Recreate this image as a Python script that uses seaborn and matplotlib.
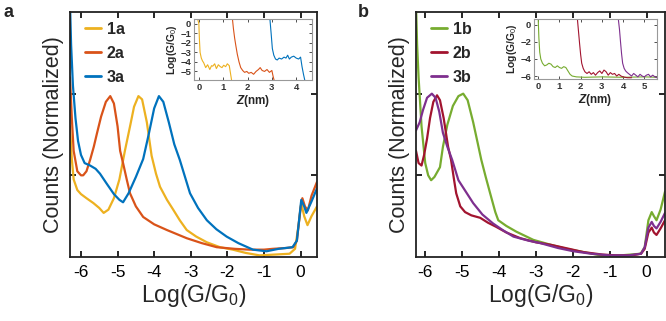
import numpy as np
import pandas as pd
import matplotlib
matplotlib.use("Agg")
import matplotlib.pyplot as plt
import seaborn as sns

# ---------------- data ----------------
# Panel a : histograms
x_1a = [-6.3, -6.25, -6.2, -6.1, -6.0, -5.85, -5.66, -5.5, -5.38, -5.25, -5.1, -4.95, -4.8, -4.65,
        -4.55, -4.43, -4.33, -4.2, -4.07, -3.95, -3.84, -3.65, -3.48, -3.3, -3.11, -2.85, -2.56,
        -2.2, -1.85, -1.5, -1.12, -0.7, -0.3, -0.15, -0.05, 0.02, 0.1, 0.19, 0.3, 0.45]
y_1a = [1.6, 1.2, 0.95, 0.82, 0.77, 0.72, 0.66, 0.6, 0.54, 0.58, 0.72, 0.95, 1.3, 1.62,
        1.84, 1.97, 1.93, 1.65, 1.24, 1.02, 0.86, 0.7, 0.58, 0.45, 0.33, 0.25, 0.18,
        0.12, 0.09, 0.05, 0.02, 0.03, 0.04, 0.1, 0.4, 0.66, 0.5, 0.39, 0.5, 0.62]

x_2a = [-6.3, -6.25, -6.2, -6.1, -6.0, -5.94, -5.85, -5.75, -5.65, -5.56, -5.45, -5.32, -5.2,
        -5.1, -5.0, -4.93, -4.85, -4.75, -4.66, -4.5, -4.3, -4.0, -3.65, -3.11, -2.7, -2.29,
        -1.8, -1.39, -1.0, -0.76, -0.4, -0.2, -0.1, 0.0, 0.05, 0.12, 0.2, 0.3, 0.45]
y_2a = [2.2, 1.7, 1.3, 1.05, 1.0, 1.0, 1.05, 1.19, 1.35, 1.52, 1.72, 1.9, 1.97,
        1.88, 1.6, 1.3, 1.15, 0.95, 0.78, 0.62, 0.49, 0.4, 0.33, 0.23, 0.17, 0.12,
        0.1, 0.09, 0.09, 0.1, 0.11, 0.12, 0.2, 0.6, 0.72, 0.62, 0.57, 0.75, 0.92]

x_3a = [-6.3, -6.27, -6.22, -6.15, -6.08, -6.0, -5.9, -5.75, -5.6, -5.48, -5.3, -5.1, -4.95,
        -4.85, -4.7, -4.5, -4.3, -4.15, -4.0, -3.87, -3.75, -3.6, -3.45, -3.3, -3.15, -3.02,
        -2.8, -2.56, -2.3, -2.02, -1.7, -1.3, -0.93, -0.6, -0.22, -0.1, 0.02, 0.1, 0.16, 0.3, 0.45]
y_3a = [3.1, 2.6, 2.1, 1.7, 1.42, 1.25, 1.15, 1.12, 1.08, 1.02, 0.9, 0.77, 0.7,
        0.67, 0.78, 0.98, 1.2, 1.5, 1.82, 1.97, 1.9, 1.65, 1.38, 1.19, 0.97, 0.78,
        0.6, 0.45, 0.34, 0.25, 0.17, 0.09, 0.07, 0.1, 0.12, 0.2, 0.7, 0.62, 0.54, 0.68, 0.84]

# Panel b : histograms
x_1b = [-6.25, -6.22, -6.18, -6.1, -6.0, -5.92, -5.84, -5.75, -5.6, -5.52, -5.4, -5.25, -5.1,
        -4.97, -4.85, -4.7, -4.58, -4.48, -4.36, -4.24, -4.1, -4.02, -3.8, -3.53, -3.07, -2.6,
        -2.17, -1.7, -1.25, -0.7, -0.16, -0.05, 0.05, 0.14, 0.2, 0.27, 0.38, 0.5]
y_1b = [3.1, 2.6, 2.2, 1.6, 1.15, 1.0, 0.94, 0.98, 1.1, 1.35, 1.62, 1.85, 1.97,
        2.0, 1.92, 1.65, 1.4, 1.19, 0.98, 0.78, 0.55, 0.45, 0.38, 0.31, 0.21, 0.15,
        0.1, 0.06, 0.02, 0.02, 0.04, 0.12, 0.45, 0.55, 0.5, 0.45, 0.58, 0.8]

x_2b = [-6.25, -6.18, -6.1, -6.03, -5.95, -5.87, -5.78, -5.68, -5.6, -5.5, -5.38, -5.3, -5.22,
        -5.16, -5.05, -4.92, -4.75, -4.51, -4.3, -4.08, -3.8, -3.42, -3.0, -2.6, -2.1, -1.71,
        -1.2, -0.82, -0.4, -0.15, -0.05, 0.05, 0.14, 0.2, 0.27, 0.38, 0.5]
y_2b = [1.3, 1.15, 1.12, 1.25, 1.45, 1.7, 1.9, 1.98, 1.92, 1.7, 1.35, 1.19, 0.95,
        0.78, 0.62, 0.55, 0.51, 0.48, 0.42, 0.37, 0.3, 0.23, 0.18, 0.15, 0.1, 0.06,
        0.03, 0.02, 0.02, 0.04, 0.1, 0.3, 0.36, 0.3, 0.27, 0.35, 0.45]

x_3b = [-6.25, -6.15, -6.06, -5.95, -5.82, -5.72, -5.62, -5.52, -5.4, -5.27, -5.1, -4.9, -4.7,
        -4.45, -4.16, -3.9, -3.61, -3.2, -2.88, -2.4, -1.98, -1.5, -1.0, -0.5, -0.15, -0.05,
        0.05, 0.14, 0.2, 0.27, 0.38, 0.5]
y_3b = [1.55, 1.65, 1.8, 1.95, 2.0, 1.95, 1.78, 1.52, 1.35, 1.19, 0.94, 0.8, 0.66,
        0.52, 0.41, 0.33, 0.25, 0.2, 0.17, 0.11, 0.07, 0.04, 0.02, 0.02, 0.04, 0.12,
        0.36, 0.43, 0.38, 0.35, 0.43, 0.54]

# Inset a : traces
ix_1a = [-0.05, 0.0, 0.02, 0.05, 0.1, 0.15, 0.2, 0.28, 0.36, 0.45, 0.52, 0.57, 0.65, 0.72,
         0.8, 0.88, 0.95, 1.02, 1.1, 1.17, 1.25, 1.3, 1.35]
iy_1a = [0.5, 0.0, -1.5, -3.0, -3.6, -3.9, -4.1, -4.6, -4.3, -4.8, -4.4, -4.45, -4.2, -4.7,
         -4.3, -4.5, -4.6, -4.35, -4.5, -4.2, -4.4, -5.2, -6.0]
ix_2a = [1.38, 1.42, 1.47, 1.52, 1.58, 1.65, 1.72, 1.8, 1.88, 1.97, 2.05, 2.15, 2.25, 2.35,
         2.45, 2.52, 2.6, 2.7, 2.8, 2.9, 3.0, 3.05, 3.1]
iy_2a = [0.5, -0.5, -1.5, -2.3, -3.2, -4.0, -4.6, -4.9, -5.1, -5.0, -5.2, -5.1, -5.3, -5.0,
         -4.8, -4.6, -4.9, -5.0, -4.8, -5.1, -4.9, -5.5, -6.0]
ix_3a = [2.92, 2.97, 3.02, 3.08, 3.15, 3.22, 3.3, 3.4, 3.5, 3.58, 3.65, 3.72, 3.8, 3.9, 4.0,
         4.1, 4.18, 4.24, 4.3, 4.36, 4.45]
iy_3a = [0.5, -1.0, -2.6, -3.3, -3.7, -3.8, -3.6, -3.7, -3.5, -3.6, -3.3, -3.7, -3.5, -3.4,
         -3.6, -3.7, -3.5, -4.5, -5.3, -6.0, -6.0]

# Inset b : traces
ix_1b = [0.0, 0.03, 0.07, 0.12, 0.2, 0.3, 0.4, 0.5, 0.6, 0.7, 0.8, 0.9, 1.0, 1.1, 1.2, 1.3,
         1.4, 1.5, 1.6, 1.8, 2.2, 3.0, 4.0, 5.0, 5.6]
iy_1b = [0.6, -1.5, -3.2, -4.0, -4.5, -4.8, -4.7, -4.5, -4.6, -4.9, -5.0, -4.8, -5.0, -5.1,
         -4.9, -5.0, -5.4, -5.8, -6.0, -6.1, -6.15, -6.1, -6.15, -6.1, -6.15]
ix_2b = [1.85, 1.9, 1.95, 2.0, 2.05, 2.12, 2.2, 2.3, 2.4, 2.5, 2.6, 2.7, 2.8, 2.9, 3.0, 3.1,
         3.2, 3.3, 3.4, 3.5, 3.6, 3.7, 3.8, 3.9, 4.0, 4.2, 4.4]
iy_2b = [0.6, -0.8, -2.2, -3.5, -4.5, -5.1, -5.5, -5.7, -5.5, -5.8, -5.6, -5.9, -5.6, -5.4,
         -5.7, -5.3, -5.5, -5.9, -5.6, -5.8, -5.7, -6.0, -5.8, -6.0, -6.1, -6.2, -6.2]
ix_3b = [3.78, 3.83, 3.88, 3.93, 3.98, 4.05, 4.12, 4.2, 4.3, 4.4, 4.5, 4.6, 4.7, 4.8, 4.9,
         5.0, 5.1, 5.2, 5.3, 5.4, 5.5, 5.6]
iy_3b = [0.6, -0.5, -2.0, -3.4, -4.5, -5.1, -5.4, -5.6, -5.8, -6.0, -5.7, -5.9, -6.1, -5.8,
         -6.0, -6.1, -5.9, -5.8, -6.1, -5.9, -6.1, -6.2]

labels_a = ["1a", "2a", "3a"]
labels_b = ["1b", "2b", "3b"]
colors_a = ["#EDB120", "#D95319", "#0072BD"]
colors_b = ["#77AC30", "#A2142F", "#7E2F8E"]
main_xticks = [-6, -5, -4, -3, -2, -1, 0]
inset_a_yticks = [0, -1, -2, -3, -4, -5]
inset_a_xticks = [0, 1, 2, 3, 4]
inset_b_yticks = [0, -2, -4, -6]
inset_b_xticks = [0, 1, 2, 3, 4, 5]


def long_df(xs, ys, names):
    frames = []
    for x, y, n in zip(xs, ys, names):
        frames.append(pd.DataFrame({"x": x, "y": y, "s": n}))
    return pd.concat(frames, ignore_index=True)


sns.set_style("ticks")
plt.rcParams["font.family"] = ["Liberation Sans", "DejaVu Sans"]
plt.rcParams["mathtext.fontset"] = "custom"
plt.rcParams["mathtext.rm"] = "Liberation Sans"
plt.rcParams["mathtext.it"] = "Liberation Sans:italic:bold"
plt.rcParams["mathtext.bf"] = "Liberation Sans:bold"

W, H = 666, 321
fig = plt.figure(figsize=(W / 100, H / 100), dpi=100)


def frac(l, r, t, b):
    return [l / W, 1 - b / H, (r - l) / W, (b - t) / H]


def style_main(ax, xlim):
    ax.set_xlim(*xlim)
    ax.set_ylim(0, 3)
    ax.set_xticks(main_xticks)
    ax.set_xticklabels([str(v) for v in main_xticks])
    ax.set_yticks([1, 2])
    ax.set_yticklabels([])
    ax.tick_params(direction="in", top=True, right=True, length=4, width=1.2,
                   labelsize=12.5, pad=6, colors="black")
    for sp in ax.spines.values():
        sp.set_visible(True)
        sp.set_linewidth(1.3)
        sp.set_color("#222222")
    ax.set_xlabel("Log(G/G$_0$)", fontsize=16.5, labelpad=1)
    ax.set_ylabel("Counts (Normalized)", fontsize=15.5, labelpad=-2)


def style_inset(ax, xlim, ylim, xt, yt):
    ax.set_xlim(*xlim)
    ax.set_ylim(*ylim)
    ax.set_xticks(xt)
    ax.set_yticks(yt)
    ax.tick_params(direction="in", top=True, right=True, length=2, width=0.6,
                   labelsize=6.8, pad=2, colors="#333333")
    for lab in ax.get_xticklabels() + ax.get_yticklabels():
        lab.set_fontweight("bold")
    for sp in ax.spines.values():
        sp.set_visible(True)
        sp.set_linewidth(0.8)
        sp.set_color("#999999")
    ax.set_xlabel("$\\mathit{Z}$(nm)", fontsize=8.5, fontweight="bold", labelpad=1)
    ax.set_ylabel("Log(G/G$_0$)", fontsize=7.5, fontweight="bold", labelpad=1)


panels = [
    dict(rect=frac(70, 317, 12, 257), inset=frac(194, 312, 19, 80), xlim=(-6.3, 0.45),
         xs=[x_1a, x_2a, x_3a], ys=[y_1a, y_2a, y_3a], ixs=[ix_1a, ix_2a, ix_3a],
         iys=[iy_1a, iy_2a, iy_3a], labels=labels_a, colors=colors_a,
         ixlim=(-0.2, 4.65), iylim=(-5.9, 0.5), ixt=inset_a_xticks, iyt=inset_a_yticks,
         tag="a", tagx=3),
    dict(rect=frac(416, 665, 12, 257), inset=frac(534, 657, 19, 79), xlim=(-6.25, 0.5),
         xs=[x_1b, x_2b, x_3b], ys=[y_1b, y_2b, y_3b], ixs=[ix_1b, ix_2b, ix_3b],
         iys=[iy_1b, iy_2b, iy_3b], labels=labels_b, colors=colors_b,
         ixlim=(-0.2, 5.6), iylim=(-6.35, 0.7), ixt=inset_b_xticks, iyt=inset_b_yticks,
         tag="b", tagx=358),
]

for p in panels:
    ax = fig.add_axes(p["rect"])
    df = long_df(p["xs"], p["ys"], p["labels"])
    pal = dict(zip(p["labels"], p["colors"]))
    sns.lineplot(data=df, x="x", y="y", hue="s", palette=pal, sort=False,
                 estimator=None, linewidth=1.6, legend=False, ax=ax)
    style_main(ax, p["xlim"])
    handles = ax.get_lines()[:3]
    leg = ax.legend(handles, p["labels"], loc="upper left", bbox_to_anchor=(0.036, 0.985),
                    borderaxespad=0, frameon=False, handlelength=1.0, handletextpad=0.35,
                    labelspacing=0.55, prop={"size": 11.5, "weight": "bold"})
    for h in leg.legend_handles:
        h.set_linewidth(2.0)

    iax = fig.add_axes(p["inset"])
    idf = long_df(p["ixs"], p["iys"], p["labels"])
    sns.lineplot(data=idf, x="x", y="y", hue="s", palette=pal, sort=False,
                 estimator=None, linewidth=0.8, legend=False, ax=iax)
    style_inset(iax, p["ixlim"], p["iylim"], p["ixt"], p["iyt"])

    fig.text(p["tagx"] / W, 1 - 4 / H, p["tag"], fontsize=13, fontweight="bold",
             ha="left", va="top")

fig.savefig("out.png", dpi=100)
